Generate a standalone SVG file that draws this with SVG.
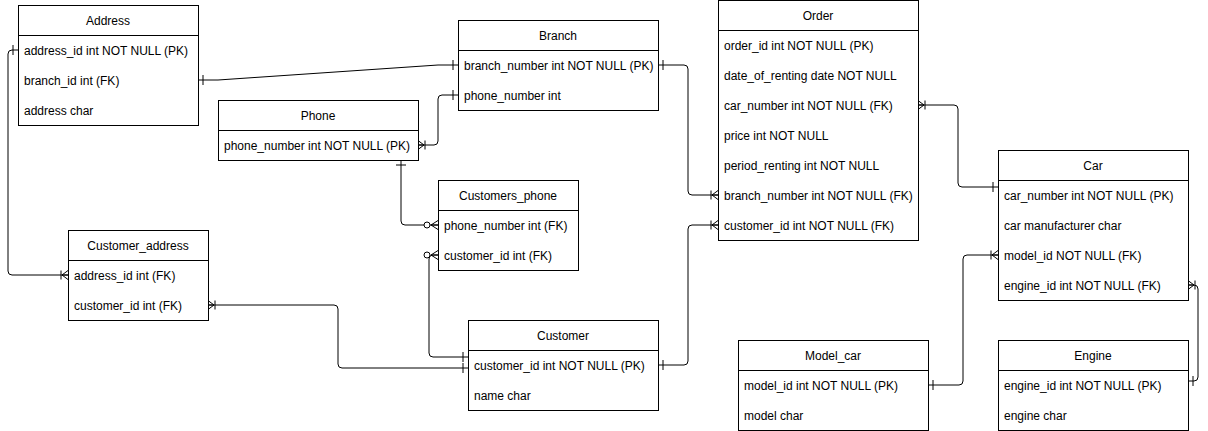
<svg xmlns="http://www.w3.org/2000/svg" width="1208" height="431" viewBox="0 0 1208 431">
<style>
.box{fill:#fff;stroke:#000;stroke-width:1}
.sep{stroke:#000;stroke-width:1}
.t{font-family:"Liberation Sans",Arial,sans-serif;font-size:12px;fill:#000}
.h{text-anchor:middle}
.c{fill:none;stroke:#000;stroke-width:1}
.mk{fill:none;stroke:#000;stroke-width:1}
</style>
<defs>
<marker id="one" markerUnits="userSpaceOnUse" markerWidth="20" markerHeight="20" refX="0" refY="0" viewBox="-15 -10 20 20" orient="auto-start-reverse" overflow="visible">
<path class="mk" d="M-5,-5 L-5,5"/>
</marker>
<marker id="oneMany" markerUnits="userSpaceOnUse" markerWidth="20" markerHeight="20" refX="0" refY="0" viewBox="-15 -10 20 20" orient="auto-start-reverse" overflow="visible">
<path class="mk" d="M-7,-4.5 L-7,4.5 M-6,0 L0,-4.5 M-6,0 L0,0 M-6,0 L0,4.5"/>
</marker>
<marker id="zeroMany" markerUnits="userSpaceOnUse" markerWidth="20" markerHeight="20" refX="0" refY="0" viewBox="-18 -10 20 20" orient="auto-start-reverse" overflow="visible">
<path class="mk" d="M-7,0 L0,-4.5 M-7,0 L0,0 M-7,0 L0,4.5"/>
<circle cx="-11" cy="0" r="3" fill="#fff" stroke="#000" stroke-width="1"/>
</marker>
</defs>

<g id="connectors">
<path class="c" d="M18,50 L12,50 Q8,50 8,54 L8,271 Q8,275 12,275 L68,275" marker-start="url(#one)" marker-end="url(#oneMany)"/>
<path class="c" d="M198,80 L218,80 L438,65 L458,65" marker-start="url(#one)" marker-end="url(#one)"/>
<path class="c" d="M418,145 L434,145 Q438,145 438,141 L438,99 Q438,95 442,95 L458,95" marker-start="url(#oneMany)" marker-end="url(#one)"/>
<path class="c" d="M401,160 L401,221 Q401,225 405,225 L438,225" marker-start="url(#one)" marker-end="url(#zeroMany)"/>
<path class="c" d="M438,255 L433,255 Q429,255 429,259 L429,353 Q429,357 433,357 L468,357" marker-start="url(#zeroMany)" marker-end="url(#one)"/>
<path class="c" d="M208,305 L334,305 Q338,305 338,309 L338,364 Q338,368 342,368 L468,368" marker-start="url(#oneMany)" marker-end="url(#one)"/>
<path class="c" d="M658,365 L684,365 Q688,365 688,361 L688,229 Q688,225 692,225 L718,225" marker-start="url(#one)" marker-end="url(#oneMany)"/>
<path class="c" d="M658,65 L684,65 Q688,65 688,69 L688,191 Q688,195 692,195 L718,195" marker-start="url(#one)" marker-end="url(#oneMany)"/>
<path class="c" d="M918,105 L954,105 Q958,105 958,109 L958,183 Q958,187 962,187 L998,187" marker-start="url(#oneMany)" marker-end="url(#one)"/>
<path class="c" d="M928,385 L959,385 Q963,385 963,381 L963,259 Q963,255 967,255 L998,255" marker-start="url(#one)" marker-end="url(#oneMany)"/>
<path class="c" d="M1188,285 L1194,285 Q1198,285 1198,289 L1198,377 Q1198,381 1194,381 L1188,381" marker-start="url(#oneMany)" marker-end="url(#one)"/>
</g>

<g id="Address">
<rect class="box" x="18.5" y="5.5" width="180" height="120"/>
<line class="sep" x1="18.5" y1="35.5" x2="198.5" y2="35.5"/>
<text class="t h" x="108" y="24.5">Address</text>
<text class="t" x="24" y="54.5">address_id int NOT NULL (PK)</text>
<text class="t" x="24" y="84.5">branch_id int (FK)</text>
<text class="t" x="24" y="114.5">address char</text>
</g>

<g id="Branch">
<rect class="box" x="458.5" y="20.5" width="200" height="90"/>
<line class="sep" x1="458.5" y1="50.5" x2="658.5" y2="50.5"/>
<text class="t h" x="558" y="39.5">Branch</text>
<text class="t" x="464" y="69.5">branch_number int NOT NULL (PK)</text>
<text class="t" x="464" y="99.5">phone_number int</text>
</g>

<g id="Phone">
<rect class="box" x="218.5" y="100.5" width="200" height="60"/>
<line class="sep" x1="218.5" y1="130.5" x2="418.5" y2="130.5"/>
<text class="t h" x="318" y="119.5">Phone</text>
<text class="t" x="224" y="149.5">phone_number int NOT NULL (PK)</text>
</g>

<g id="Order">
<rect class="box" x="718.5" y="0.5" width="200" height="240"/>
<line class="sep" x1="718.5" y1="30.5" x2="918.5" y2="30.5"/>
<text class="t h" x="818" y="19.5">Order</text>
<text class="t" x="724" y="49.5">order_id int NOT NULL (PK)</text>
<text class="t" x="724" y="79.5">date_of_renting date NOT NULL</text>
<text class="t" x="724" y="109.5">car_number int NOT NULL (FK)</text>
<text class="t" x="724" y="139.5">price int NOT NULL</text>
<text class="t" x="724" y="169.5">period_renting int NOT NULL</text>
<text class="t" x="724" y="199.5">branch_number int NOT NULL (FK)</text>
<text class="t" x="724" y="229.5">customer_id int NOT NULL (FK)</text>
</g>

<g id="Car">
<rect class="box" x="998.5" y="150.5" width="190" height="150"/>
<line class="sep" x1="998.5" y1="180.5" x2="1188.5" y2="180.5"/>
<text class="t h" x="1093" y="169.5">Car</text>
<text class="t" x="1004" y="199.5">car_number int NOT NULL (PK)</text>
<text class="t" x="1004" y="229.5">car manufacturer char</text>
<text class="t" x="1004" y="259.5">model_id NOT NULL (FK)</text>
<text class="t" x="1004" y="289.5">engine_id int NOT NULL (FK)</text>
</g>

<g id="Customers_phone">
<rect class="box" x="438.5" y="180.5" width="140" height="90"/>
<line class="sep" x1="438.5" y1="210.5" x2="578.5" y2="210.5"/>
<text class="t h" x="508" y="199.5">Customers_phone</text>
<text class="t" x="444" y="229.5">phone_number int (FK)</text>
<text class="t" x="444" y="259.5">customer_id int (FK)</text>
</g>

<g id="Customer_address">
<rect class="box" x="68.5" y="230.5" width="140" height="90"/>
<line class="sep" x1="68.5" y1="260.5" x2="208.5" y2="260.5"/>
<text class="t h" x="138" y="249.5">Customer_address</text>
<text class="t" x="74" y="279.5">address_id int (FK)</text>
<text class="t" x="74" y="309.5">customer_id int (FK)</text>
</g>

<g id="Customer">
<rect class="box" x="468.5" y="320.5" width="190" height="90"/>
<line class="sep" x1="468.5" y1="350.5" x2="658.5" y2="350.5"/>
<text class="t h" x="563" y="339.5">Customer</text>
<text class="t" x="474" y="369.5">customer_id int NOT NULL (PK)</text>
<text class="t" x="474" y="399.5">name char</text>
</g>

<g id="Model_car">
<rect class="box" x="738.5" y="340.5" width="190" height="90"/>
<line class="sep" x1="738.5" y1="370.5" x2="928.5" y2="370.5"/>
<text class="t h" x="833" y="359.5">Model_car</text>
<text class="t" x="744" y="389.5">model_id int NOT NULL (PK)</text>
<text class="t" x="744" y="419.5">model char</text>
</g>

<g id="Engine">
<rect class="box" x="998.5" y="340.5" width="190" height="90"/>
<line class="sep" x1="998.5" y1="370.5" x2="1188.5" y2="370.5"/>
<text class="t h" x="1093" y="359.5">Engine</text>
<text class="t" x="1004" y="389.5">engine_id int NOT NULL (PK)</text>
<text class="t" x="1004" y="419.5">engine char</text>
</g>
</svg>
